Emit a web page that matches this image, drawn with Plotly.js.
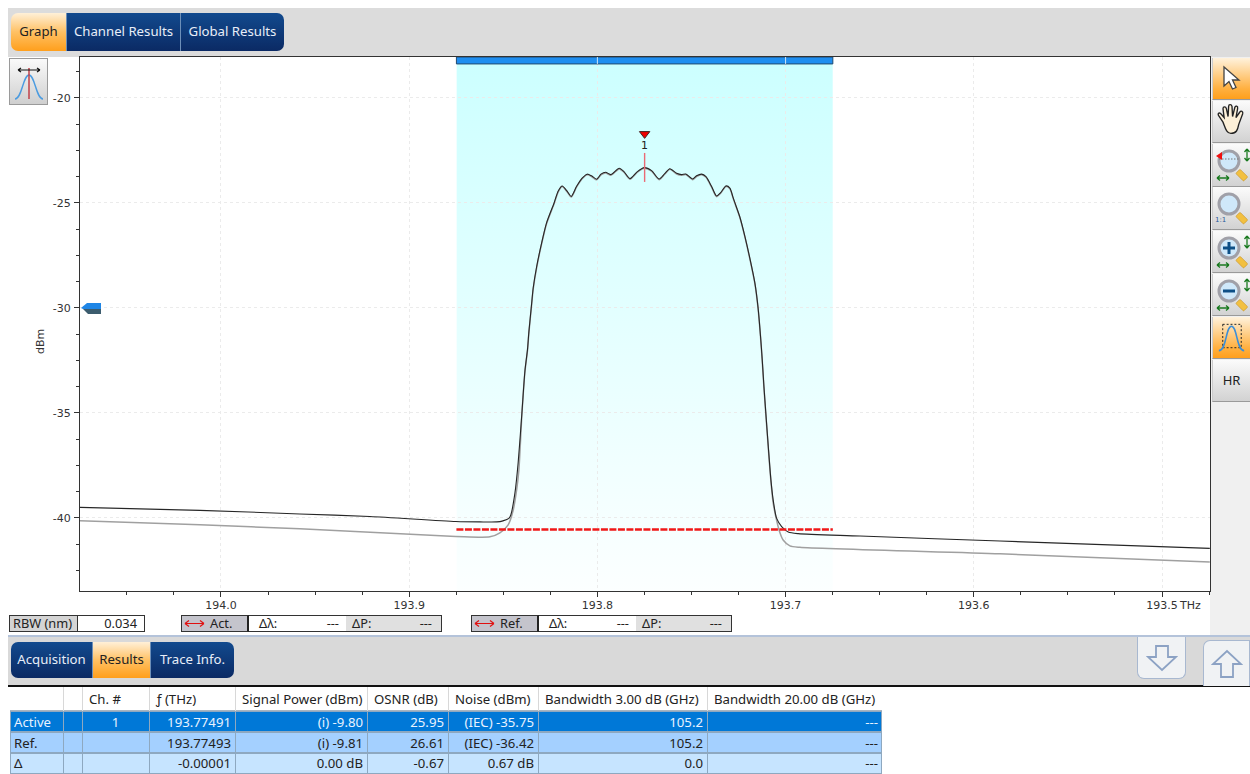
<!DOCTYPE html>
<html><head><meta charset="utf-8">
<script src="https://cdn.plot.ly/plotly-3.0.1.min.js"></script>
<style>
html,body{margin:0;padding:0;background:#fff;width:1250px;height:774px;overflow:hidden;font-family:"Noto Sans","Open Sans",sans-serif;}
.a{position:absolute;box-sizing:border-box;}
#chart{position:absolute;left:0;top:0;width:1250px;height:774px;}
.tab{position:absolute;box-sizing:border-box;display:flex;align-items:center;justify-content:center;font-size:13.2px;padding-bottom:2px;color:#e8eef8;background:linear-gradient(#124a8e,#0b2a64);border-right:1px solid #6d8fb8;white-space:nowrap;}
.tab.on{background:linear-gradient(#fff0d8 0%,#ffc164 50%,#ff9f1c 100%);color:#222;}
.cell{position:absolute;box-sizing:border-box;font-size:13.2px;color:#222;display:flex;align-items:center;white-space:nowrap;padding:0 5px;}
.btn{position:absolute;left:1212px;width:38px;box-sizing:border-box;background:linear-gradient(#fbfbfb,#d2d2d2);border-bottom:1px solid #9a9a9a;border-left:1px solid #ccc;display:flex;align-items:center;justify-content:center;font-size:13px;color:#222;padding-bottom:2px;}
.btn.on{background:linear-gradient(#fff2dc,#ffb040 75%,#ff9f1c);}
.btn svg{display:block}
</style></head><body>
<div class="a" style="left:8px;top:8px;width:1242px;height:49px;background:#dcdcdc"></div>
<div class="a" style="left:1210px;top:57px;width:40px;height:578px;background:#f0f0f0"></div>
<div class="a" style="left:8px;top:635px;width:1242px;height:50px;background:#d9d9d9;border-top:2px solid #b4c3da"></div>
<div class="a" style="left:8px;top:685px;width:1242px;height:2px;background:#111"></div>
<div id="chart"></div>
<div id="chrome"></div>
<script>
// ---- active trace (black) ----
const activeFreq = [194.0750,194.0112,193.9581,193.9209,193.8752,193.8624,193.8534,193.8502,193.8470,193.8460,193.8438,193.8421,193.8401,193.8385,193.8371,193.8364,193.8350,193.8341,193.8323,193.8296,193.8270,193.8230,193.8208,193.8187,193.8164,193.8139,193.8111,193.8081,193.8054,193.8031,193.8004,193.7981,193.7956,193.7928,193.7884,193.7859,193.7827,193.7789,193.7751,193.7712,193.7672,193.7641,193.7615,193.7579,193.7553,193.7530,193.7494,193.7473,193.7446,193.7423,193.7393,193.7367,193.7345,193.7317,193.7296,193.7280,193.7269,193.7243,193.7216,193.7190,193.7163,193.7146,193.7133,193.7124,193.7115,193.7105,193.7092,193.7078,193.7066,193.7048,193.7021,193.6986,193.6933,193.6605,193.5861,193.4746];
const activePower = [-39.50,-39.64,-39.81,-39.93,-40.17,-40.19,-40.19,-40.14,-40.02,-39.86,-38.81,-37.38,-35.00,-33.00,-31.95,-31.14,-29.86,-29.05,-28.05,-26.90,-25.95,-25.00,-24.43,-24.19,-24.40,-24.69,-24.22,-23.82,-23.63,-23.71,-23.87,-23.63,-23.54,-23.65,-23.35,-23.51,-23.84,-23.52,-23.32,-23.46,-23.86,-23.59,-23.37,-23.59,-23.65,-23.62,-23.86,-23.71,-23.63,-23.75,-24.22,-24.67,-24.51,-24.19,-24.29,-24.71,-25.00,-25.67,-26.60,-27.63,-28.82,-30.01,-31.37,-32.48,-33.75,-35.01,-36.60,-38.19,-39.14,-40.01,-40.41,-40.67,-40.75,-40.86,-41.10,-41.45];
// ---- reference trace (grey) ----
const refFreq = [194.0750,194.0112,193.9581,193.8752,193.8571,193.8518,193.8474,193.8447,193.8429,193.8417,193.8401,193.8385,193.8371,193.8364,193.8350,193.8341,193.8323,193.8296,193.8270,193.8230,193.8208,193.8187,193.8164,193.8139,193.8111,193.8081,193.8054,193.8031,193.8004,193.7981,193.7956,193.7928,193.7884,193.7859,193.7827,193.7789,193.7751,193.7712,193.7672,193.7641,193.7615,193.7579,193.7553,193.7530,193.7494,193.7473,193.7446,193.7423,193.7393,193.7367,193.7345,193.7317,193.7296,193.7280,193.7269,193.7243,193.7216,193.7190,193.7163,193.7146,193.7133,193.7124,193.7115,193.7105,193.7092,193.7078,193.7066,193.7048,193.7030,193.7013,193.6977,193.6924,193.5861,193.4746];
const refPower = [-40.14,-40.33,-40.52,-40.88,-40.90,-40.71,-40.33,-39.62,-38.67,-37.71,-35.06,-33.05,-32.00,-31.19,-29.91,-29.10,-28.10,-26.94,-25.99,-25.04,-24.47,-24.22,-24.43,-24.72,-24.25,-23.85,-23.66,-23.74,-23.90,-23.66,-23.57,-23.68,-23.38,-23.54,-23.87,-23.55,-23.35,-23.49,-23.89,-23.62,-23.40,-23.62,-23.68,-23.65,-23.89,-23.74,-23.66,-23.78,-24.25,-24.70,-24.54,-24.22,-24.32,-24.74,-25.03,-25.70,-26.63,-27.66,-28.85,-30.04,-31.40,-32.52,-33.80,-35.06,-36.66,-38.26,-39.29,-40.10,-40.71,-41.05,-41.33,-41.40,-41.71,-42.10];
// ---- annotations on the plot ----
const channelStart = 193.8749, channelEnd = 193.6749, channelCenter = 193.7749;
const noiseLevel = -40.55;
const markerTop = -21.71, markerStemHigh = -22.62, markerStemLow = -24.0;
const levelTag = -30;
const xRange = [194.0749, 193.4745], yRange = [-43.48, -18.05];
const xTicks = [194.0,193.9,193.8,193.7,193.6,193.5];
const xLabels = ['194.0','193.9','193.8','193.7','193.6','193.5'];
const yTicks = [-40,-35,-30,-25,-20];
const yLabels = ['-40','-35','-30','-25','-20'];
// ---- results table ----
const tableHeaders = ['', 'Ch. #', 'ƒ (THz)', 'Signal Power (dBm)', 'OSNR (dB)', 'Noise (dBm)', 'Bandwidth 3.00 dB (GHz)', 'Bandwidth 20.00 dB (GHz)'];
const rowActive = ['Active','1','193.77491','(i) -9.80','25.95','(IEC) -35.75','105.2','---'];
const rowRef = ['Ref.','','193.77493','(i) -9.81','26.61','(IEC) -36.42','105.2','---'];
const rowDelta = ['Δ','','-0.00001','0.00 dB','-0.67','0.67 dB','0.0','---'];

const gradient = 'data:image/svg+xml;utf8,' + encodeURIComponent('<svg xmlns="http://www.w3.org/2000/svg" width="10" height="100" preserveAspectRatio="none"><defs><linearGradient id="g" x1="0" y1="0" x2="0" y2="1"><stop offset="0" stop-color="#ccffff"/><stop offset="1" stop-color="#fcffff"/></linearGradient></defs><rect width="10" height="100" fill="url(#g)"/></svg>');

const traces = [
 {x:refFreq,y:refPower,mode:'lines',line:{color:'#a0a0a0',width:1.5,shape:'spline',smoothing:0.7},hoverinfo:'skip',name:'Ref.'},
 {x:activeFreq,y:activePower,mode:'lines',line:{color:'#262626',width:1.1,shape:'spline',smoothing:0.7},hoverinfo:'skip',name:'Active'},
 {x:[channelStart,channelEnd],y:[noiseLevel,noiseLevel],mode:'lines',line:{color:'#f01818',width:2.5,dash:'7px,1.5px'},hoverinfo:'skip',name:'Noise'},
 {x:[channelCenter,channelCenter],y:[markerStemHigh,markerStemLow],mode:'lines',line:{color:'#ea6a74',width:1.4},hoverinfo:'skip',name:'stem'},
 {x:[channelCenter],y:[markerTop],mode:'markers+text',text:['1'],textposition:'bottom center',textfont:{family:'DejaVu Sans',size:11,color:'#222'},marker:{symbol:'triangle-down',size:9,color:'#f00000',line:{color:'#402020',width:1}},hoverinfo:'skip',name:'Marker'}
];
const shapes = [
 {type:'rect',xref:'x',yref:'y',x0:channelStart,x1:channelEnd,y0:-18.05,y1:-18.38,fillcolor:'#1f8ef0',line:{color:'#21496e',width:1},layer:'above'},
 {type:'line',xref:'x',yref:'y',x0:193.8,x1:193.8,y0:-18.05,y1:-18.38,line:{color:'#cfe6fa',width:1},layer:'above'},
 {type:'line',xref:'x',yref:'y',x0:193.7,x1:193.7,y0:-18.05,y1:-18.38,line:{color:'#cfe6fa',width:1},layer:'above'},
 {type:'path',xref:'x',yref:'y',xsizemode:'pixel',ysizemode:'pixel',xanchor:xRange[0],yanchor:levelTag,path:'M 1 0 L 7 5 L 21 5 L 21 -1 L 3 -1 Z',fillcolor:'#1f86e6',line:{width:0},layer:'above'},
 {type:'path',xref:'x',yref:'y',xsizemode:'pixel',ysizemode:'pixel',xanchor:xRange[0],yanchor:levelTag,path:'M 3 -1 L 21 -1 L 21 -6 L 8 -6 Z',fillcolor:'#3c5c6e',line:{width:0},layer:'above'}
];
const layout = {
 width:1250,height:774,autosize:false,
 margin:{l:80,r:40,t:57,b:183,pad:0},
 paper_bgcolor:'rgba(0,0,0,0)',plot_bgcolor:'#fff',showlegend:false,
 font:{family:'DejaVu Sans',size:11,color:'#333'},
 xaxis:{range:xRange,tickmode:'array',tickvals:xTicks,ticktext:xLabels,ticks:'outside',ticklen:5,tickcolor:'#333',
  showgrid:true,gridcolor:'#ebebeb',griddash:'dot',gridwidth:1,zeroline:false,showline:true,linecolor:'#333',linewidth:1,mirror:true,
  ticklabelstandoff:-1,tickfont:{family:'DejaVu Sans',size:11,color:'#333'},
  minor:{dtick:0.025,tick0:193.5,ticks:'outside',ticklen:3,tickcolor:'#333',showgrid:false}},
 yaxis:{range:yRange,tickmode:'array',tickvals:yTicks,ticktext:yLabels,ticks:'outside',ticklen:5,tickcolor:'#333',
  showgrid:true,gridcolor:'#ebebeb',griddash:'dot',gridwidth:1,zeroline:false,showline:true,linecolor:'#333',linewidth:1,mirror:true,
  tickfont:{family:'DejaVu Sans',size:11,color:'#333'},ticklabelstandoff:1,
  minor:{dtick:1.25,tick0:-20,ticks:'outside',ticklen:3,tickcolor:'#333',showgrid:false}},
 images:[{source:gradient,xref:'x',yref:'y',x:channelStart,y:yRange[1],sizex:channelStart-channelEnd,sizey:yRange[1]-yRange[0],sizing:'stretch',xanchor:'left',yanchor:'top',layer:'below'}],
 shapes:shapes,
 annotations:[
  {text:'dBm',xref:'paper',yref:'paper',x:(40-80)/1130,y:(591-342)/534,textangle:-90,showarrow:false,font:{family:'DejaVu Sans',size:11,color:'#333'},xanchor:'center',yanchor:'middle'},
  {text:'THz',xref:'paper',yref:'paper',x:(1177-80)/1130,y:(591-605)/534,showarrow:false,font:{family:'DejaVu Sans',size:11,color:'#333'},xanchor:'left',yanchor:'middle'}
 ]
};
Plotly.newPlot('chart',traces,layout,{displayModeBar:false,staticPlot:true});

// ---- surrounding application chrome ----
const C = document.getElementById('chrome');
function el(cls,css,html){const d=document.createElement('div');d.className=cls;d.style.cssText=css;d.innerHTML=html||'';C.appendChild(d);return d;}
function tabs(list,y,h){
 list.forEach((t,i)=>{
  const r = i===0?'border-radius:7px 0 0 7px;':(i===list.length-1?'border-radius:0 7px 7px 0;border-right:none;':'');
  el('tab'+(t[3]?' on':''),`left:${t[1]}px;top:${y}px;width:${t[2]}px;height:${h}px;${r}`,t[0]);
 });
}
tabs([['Graph',11,56,1],['Channel Results',67,114,0],['Global Results',181,103,0]],13,38);
tabs([['Acquisition',11,82,0],['Results',93,58,1],['Trace Info.',151,83,0]],642,36);

// status row
function box(l,w,bg,txt,extra){el('cell',`left:${l}px;top:615px;width:${w}px;height:17px;background:${bg};border-top:1px solid #333;border-bottom:1px solid #333;${extra||''}font-size:12.8px;padding-bottom:1px;`,txt);}
box(9,69,'#d4d4d4','RBW (nm)','border-left:1px solid #333;border-right:1px solid #333;padding:0 3px;');
box(78,67,'#fff','0.034','justify-content:flex-end;border-right:1px solid #333;padding-right:7px;');
const arrow='<svg width="21" height="9" style="margin-right:5px"><path d="M1 4.5H20M1 4.5l4-3M1 4.5l4 3M20 4.5l-4-3M20 4.5l-4 3" stroke="#e01010" stroke-width="1.2" fill="none"/></svg>';
[[181,'Act.'],[471,'Ref.']].forEach(g=>{
 box(g[0],68,'#c4c4cc',arrow+g[1],'border-left:1px solid #333;border-right:2px solid #222;padding:0 2px;');
 box(g[0]+68,97,'#fff','<span style="margin-left:5px">Δλ:</span><span style="margin-left:auto;padding-right:2px">---</span>','');
 box(g[0]+165,96,'#e0e0e0','<span style="margin-left:1px">ΔP:</span><span style="margin-left:auto;padding-right:4px">---</span>','border-right:1px solid #333;');
});

// table
const edges=[10,63,82,149,235,367,448,538,707,882];
const aligns=['l','c','r','r','r','r','r','r'];
function cols(ci){return ci===0?[edges[0],edges[1]]:[edges[ci+1],edges[ci+2]];}
el('a','left:10px;top:687px;width:872px;height:24px;background:#fff;border-bottom:1px solid #a8b4c0','');
[63,82,149,235,367,448,538,707].forEach(x=>el('a',`left:${x}px;top:687px;width:1px;height:24px;background:#d8d8d8`,''));
tableHeaders.forEach((h,i)=>{ if(!h) return; const c=cols(i);
 el('cell',`left:${c[0]}px;top:687px;width:${c[1]-c[0]}px;height:24px;justify-content:flex-start;padding:0 0 0 7px;`,h);});
[[rowActive,711,'#0078d7','#e8f2ff'],[rowRef,732,'#a4d0ff','#222'],[rowDelta,752.5,'#c6e4ff','#222']].forEach(r=>{
 const [row,y,bg,fg]=r;
 el('a',`left:10px;top:${y}px;width:872px;height:21px;background:${bg};border-bottom:1px solid #8ea8c0;border-top:1px solid #8ea8c0`,'');
 [10,63,82,149,235,367,448,538,707,881].forEach(x=>el('a',`left:${x}px;top:${y}px;width:1px;height:21px;background:#8ea8c0`,''));
 row.forEach((v,i)=>{const c=cols(i);const j=aligns[i]==='l'?'flex-start':aligns[i]==='c'?'center':'flex-end';
  el('cell',`left:${c[0]}px;top:${y}px;width:${c[1]-c[0]}px;height:21px;justify-content:${j};color:${fg};padding:0 4px;`,v);});
});

// toolbar
function mag(glyph,extra){return `<svg width="36" height="36" viewBox="0 0 36 36"><circle cx="15" cy="15" r="10" fill="#cfe8fa" stroke="#a0a0a8" stroke-width="3"/><rect x="24" y="24" width="11" height="6" rx="1" transform="rotate(45 26 26)" fill="#f2c040" stroke="#c89020" stroke-width="0.6"/>${glyph||''}${extra||''}</svg>`;}
const dbl='<path d="M33 3v12M33 3l-2.500 3M33 3l2.500 3M33 15l-2.500-3M33 15l2.500-3M3 32h12M3 32l3-2.500M3 32l3 2.500M15 32l-3-2.500M15 32l-3 2.500" stroke="#1a7a20" stroke-width="1.3" fill="none"/>';
const peak=(c)=>`<svg width="38" height="40" viewBox="0 0 38 40">${c}<path d="M6 34C14 34 13 9 19 9S24 34 32 34" stroke="#3b8ed8" stroke-width="1.6" fill="none"/></svg>`;
const toolbar=[
 [58,42,1,'<svg width="22" height="26" viewBox="0 0 22 26"><path d="M3 2L3 21L8 16.500L11.500 24L15 22.500L11.500 15L18 15Z" fill="#fff" stroke="#444" stroke-width="1.300"/></svg>'],
 [101,42,0,'<svg width="34" height="36" viewBox="0 0 30 32"><path d="M7 17L3 11C2 9 4 8 5.500 10L8 13L7 5C7 3 9.500 3 10 5L11.500 12L12 3C12 1 14.500 1 15 3L15.500 12L17.500 4C18 2 20.500 2.500 20 5L18.500 13L22 8C23 6.500 25 7.500 24.500 9.500L21 19C20 24 19 27 14 27C10 27 9 22 7 17Z" fill="#fdf0d8" stroke="#222" stroke-width="1.200"/></svg>'],
 [144,43,0,mag('<path d="M5 13h20" stroke="#777" stroke-dasharray="1.500 1.500"/><path d="M2 10l6-4v8Z" fill="#f01010"/>',dbl)],
 [187,43,0,mag('','<text x="1" y="33" font-size="7" font-family="DejaVu Sans" fill="#2a5a9a">1:1</text>')],
 [231,42,0,mag('<path d="M9 15h12M15 9v12" stroke="#0d4f86" stroke-width="3"/>',dbl)],
 [274,42,0,mag('<path d="M9 15h12" stroke="#0d4f86" stroke-width="3"/>',dbl)],
 [317,42,1,peak('<rect x="10" y="7" width="19" height="24" fill="none" stroke="#222" stroke-dasharray="2 2"/>')],
 [360,42,0,'HR']
];
toolbar.forEach(t=>el('btn'+(t[2]?' on':''),`top:${t[0]}px;height:${t[1]}px;`,t[3]));
// top-left peak button
el('a','left:9px;top:58px;width:39px;height:47px;background:linear-gradient(#fafafa,#cfcfcf);border:1px solid #9a9a9a;display:flex;align-items:center;justify-content:center;',
 '<svg width="36" height="42" viewBox="0 0 36 42"><path d="M4 38C11 38 12 14 18 14S25 38 32 38" stroke="#4a9be0" stroke-width="1.400" fill="none"/><path d="M18 7V38" stroke="#c04048" stroke-width="1.500"/><path d="M7 9H29M7 9l3-2M7 9l3 2M29 9l-3-2M29 9l-3 2" stroke="#111" stroke-width="1.200" fill="none"/></svg>');

// up/down arrows
el('a','left:1137px;top:637px;width:49px;height:42px;background:#f0f2f4;border:1px solid #a8b8d0;border-top:none;border-radius:0 0 7px 7px;display:flex;align-items:center;justify-content:center;',
 '<svg width="32" height="30"><path d="M10 3H22V14H30L16 27L2 14H10Z" fill="none" stroke="#8ca2c4" stroke-width="1.800"/></svg>');
el('a','left:1203px;top:640px;width:47px;height:46px;background:#f0f2f4;border:1px solid #a8b8d0;border-bottom:none;border-radius:7px 0 0 0;display:flex;align-items:center;justify-content:center;',
 '<svg width="32" height="32"><path d="M10 29H22V16H30L16 3L2 16H10Z" fill="none" stroke="#8ca2c4" stroke-width="1.800"/></svg>');
</script>
</body></html>
